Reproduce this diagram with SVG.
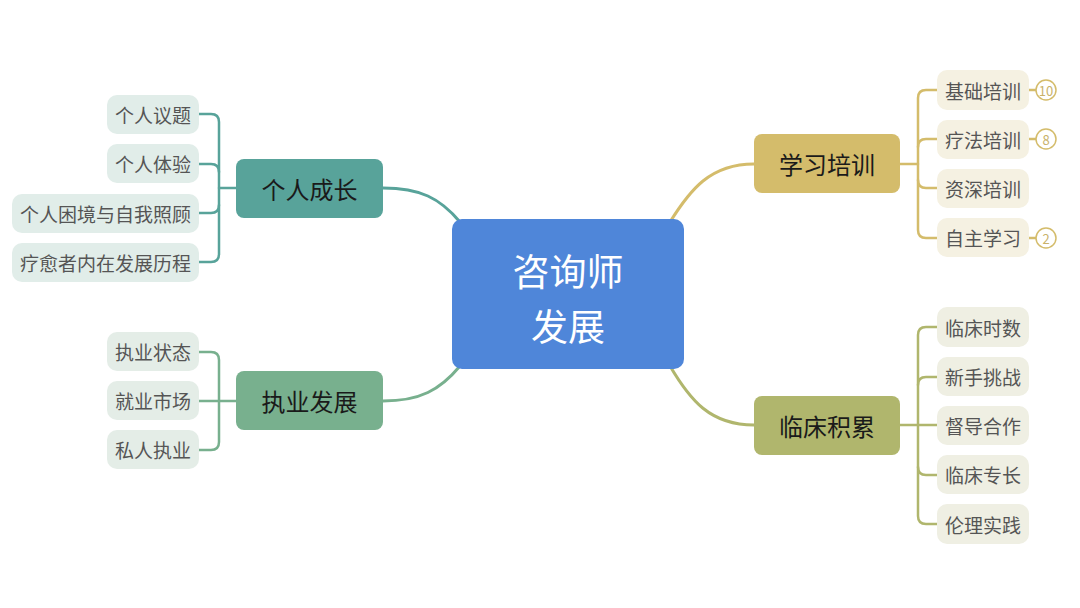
<svg xmlns="http://www.w3.org/2000/svg" width="1080" height="608" viewBox="0 0 1080 608">
<style>
text{font-family:"Noto Sans CJK SC","Noto Sans",sans-serif;text-anchor:middle;dominant-baseline:central}
.main{font-size:24px;fill:#1a1a1a}
.leaf{font-size:19px;fill:#555}
.badge{font-size:13px}
.c{fill:none;stroke-width:3;stroke-linecap:round}
.b{fill:none;stroke-width:2.5;stroke-linecap:round}
</style>
<rect width="1080" height="608" fill="#fff"/>
<g id="connectors">
<path class="c" stroke="#58a39a" d="M460,222 C440,198 420,188 383,188"/>
<path class="c" stroke="#78b08e" d="M460,366 C440,390 420,401 383,401"/>
<path class="c" stroke="#d4bc6b" d="M670,222 C690,190 710,164 754,164"/>
<path class="c" stroke="#b0b66d" d="M670,366 C690,400 710,425 754,425"/>
<g stroke="#58a39a">
<path class="b" d="M199,114 H211 Q219,114 219,122 V254 Q219,262 211,262 H199"/>
<path class="b" d="M199,164 H211 Q219,164 219,172 M199,213 H211 Q219,213 219,205 M219,188 H236"/>
</g>
<g stroke="#78b08e">
<path class="b" d="M199,352 H211 Q219,352 219,360 V442 Q219,450 211,450 H199"/>
<path class="b" d="M199,401 H236"/>
</g>
<g stroke="#d4bc6b">
<path class="b" d="M937,90 H926 Q918,90 918,98 V230 Q918,238 926,238 H937"/>
<path class="b" d="M937,139 H926 Q918,139 918,147 M937,188 H926 Q918,188 918,180 M900,164 H918"/>
<path class="b" d="M1029,90 H1036 M1029,139 H1036 M1029,238 H1036"/>
</g>
<g stroke="#b0b66d">
<path class="b" d="M937,327 H926 Q918,327 918,335 V516 Q918,524 926,524 H937"/>
<path class="b" d="M937,377 H926 Q918,377 918,385 M937,475 H926 Q918,475 918,467 M900,425 H937"/>
</g>
</g>
<g id="center">
<rect x="452" y="219" width="232" height="150" rx="10" fill="#4f86d9"/>
<text x="568" y="270" font-size="37" fill="#fff">咨询师</text>
<text x="568" y="325" font-size="37" fill="#fff">发展</text>
</g>
<g id="n-growth">
<rect x="236" y="159" width="147" height="59" rx="8" fill="#58a39a"/>
<text class="main" x="309.5" y="188.5">个人成长</text>
</g>
<g id="n-g1"><rect x="107" y="95" width="92" height="39" rx="10" fill="#e1ede9"/><text class="leaf" x="153" y="114.5">个人议题</text></g>
<g id="n-g2"><rect x="107" y="144" width="92" height="39" rx="10" fill="#e1ede9"/><text class="leaf" x="153" y="163.5">个人体验</text></g>
<g id="n-g3"><rect x="12" y="194" width="187" height="39" rx="10" fill="#e1ede9"/><text class="leaf" x="105.5" y="213.5">个人困境与自我照顾</text></g>
<g id="n-g4"><rect x="12" y="243" width="187" height="39" rx="10" fill="#e1ede9"/><text class="leaf" x="105.5" y="262.5">疗愈者内在发展历程</text></g>
<g id="n-practice">
<rect x="236" y="371" width="147" height="59" rx="8" fill="#78b08e"/>
<text class="main" x="309.5" y="400.5">执业发展</text>
</g>
<g id="n-p1"><rect x="107" y="332" width="92" height="39" rx="10" fill="#e4ede7"/><text class="leaf" x="153" y="351.5">执业状态</text></g>
<g id="n-p2"><rect x="107" y="381" width="92" height="39" rx="10" fill="#e4ede7"/><text class="leaf" x="153" y="400.5">就业市场</text></g>
<g id="n-p3"><rect x="107" y="430" width="92" height="39" rx="10" fill="#e4ede7"/><text class="leaf" x="153" y="449.5">私人执业</text></g>
<g id="n-study">
<rect x="754" y="134" width="146" height="59" rx="8" fill="#d4bc6b"/>
<text class="main" x="827" y="163.5">学习培训</text>
</g>
<g id="n-s1"><rect x="937" y="70" width="92" height="40" rx="10" fill="#f5f1e2"/><text class="leaf" x="983" y="90">基础培训</text>
<circle cx="1046" cy="90" r="10" fill="#fff" stroke="#d4bc6b" stroke-width="1.5"/><text class="badge" x="1046" y="90" fill="#c9b26a">10</text></g>
<g id="n-s2"><rect x="937" y="120" width="92" height="39" rx="10" fill="#f5f1e2"/><text class="leaf" x="983" y="139.5">疗法培训</text>
<circle cx="1046" cy="139" r="10" fill="#fff" stroke="#d4bc6b" stroke-width="1.5"/><text class="badge" x="1046" y="139" fill="#c9b26a">8</text></g>
<g id="n-s3"><rect x="937" y="169" width="92" height="39" rx="10" fill="#f5f1e2"/><text class="leaf" x="983" y="188.5">资深培训</text></g>
<g id="n-s4"><rect x="937" y="218" width="92" height="39" rx="10" fill="#f5f1e2"/><text class="leaf" x="983" y="237.5">自主学习</text>
<circle cx="1046" cy="238" r="10" fill="#fff" stroke="#d4bc6b" stroke-width="1.5"/><text class="badge" x="1046" y="238" fill="#c9b26a">2</text></g>
<g id="n-clinic">
<rect x="754" y="396" width="146" height="59" rx="8" fill="#b0b66d"/>
<text class="main" x="827" y="425.5">临床积累</text>
</g>
<g id="n-c1"><rect x="937" y="307" width="92" height="40" rx="10" fill="#efefe3"/><text class="leaf" x="983" y="327">临床时数</text></g>
<g id="n-c2"><rect x="937" y="357" width="92" height="39" rx="10" fill="#efefe3"/><text class="leaf" x="983" y="376.5">新手挑战</text></g>
<g id="n-c3"><rect x="937" y="406" width="92" height="39" rx="10" fill="#efefe3"/><text class="leaf" x="983" y="425.5">督导合作</text></g>
<g id="n-c4"><rect x="937" y="455" width="92" height="39" rx="10" fill="#efefe3"/><text class="leaf" x="983" y="474.5">临床专长</text></g>
<g id="n-c5"><rect x="937" y="504" width="92" height="40" rx="10" fill="#efefe3"/><text class="leaf" x="983" y="524">伦理实践</text></g>
</svg>
